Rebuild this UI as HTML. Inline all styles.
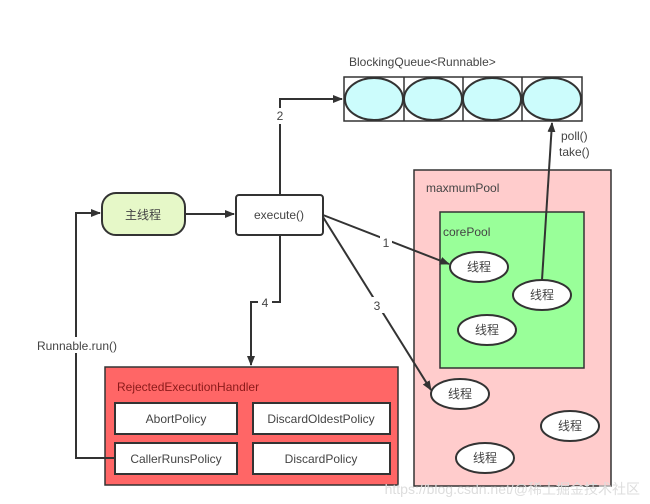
<!DOCTYPE html>
<html><head><meta charset="utf-8"><style>
html,body{margin:0;padding:0;background:#fff;}
svg{display:block;font-family:"Liberation Sans","Noto Sans CJK SC",sans-serif;}
text{fill:#444;font-size:12px;}
</style></head><body>
<svg width="650" height="504" viewBox="0 0 650 504" xmlns="http://www.w3.org/2000/svg">
<defs><marker id="a" markerWidth="10" markerHeight="8" refX="9" refY="4" orient="auto" markerUnits="userSpaceOnUse"><path d="M0,0 L10,4 L0,8 Z" fill="#333"/></marker></defs>
<g stroke="#333" stroke-width="2" fill="none">
<!-- queue -->
<rect x="344" y="77" width="238" height="44" fill="#fff" stroke-width="1.5"/>
<line x1="404" y1="77" x2="404" y2="121" stroke-width="1.5"/>
<line x1="463" y1="77" x2="463" y2="121" stroke-width="1.5"/>
<line x1="522" y1="77" x2="522" y2="121" stroke-width="1.5"/>
<ellipse cx="374" cy="99" rx="29" ry="21" fill="#ccfcfc"/>
<ellipse cx="433" cy="99" rx="29" ry="21" fill="#ccfcfc"/>
<ellipse cx="492" cy="99" rx="29" ry="21" fill="#ccfcfc"/>
<ellipse cx="552" cy="99" rx="29" ry="21" fill="#ccfcfc"/>
<!-- pools -->
<rect x="414" y="170" width="197" height="316" fill="#ffcccc" stroke-width="1.5"/>
<rect x="440" y="212" width="144" height="156" fill="#99ff99" stroke-width="1.5"/>
<!-- nodes -->
<rect x="102" y="193" width="83" height="42" rx="14" fill="#e6f8c8"/>
<rect x="236" y="195" width="87" height="40" rx="3" fill="#fff"/>
<rect x="105" y="367" width="293" height="118" fill="#ff6666" stroke-width="1.5"/>
<rect x="115" y="403" width="122" height="31" fill="#fff"/>
<rect x="253" y="403" width="137" height="31" fill="#fff"/>
<rect x="115" y="443" width="122" height="31" fill="#fff"/>
<rect x="253" y="443" width="137" height="31" fill="#fff"/>
<!-- threads -->
<ellipse cx="479" cy="267" rx="29" ry="15" fill="#fff"/>
<ellipse cx="542" cy="295" rx="29" ry="15" fill="#fff"/>
<ellipse cx="487" cy="330" rx="29" ry="15" fill="#fff"/>
<ellipse cx="460" cy="394" rx="29" ry="15" fill="#fff"/>
<ellipse cx="570" cy="426" rx="29" ry="15" fill="#fff"/>
<ellipse cx="485" cy="458" rx="29" ry="15" fill="#fff"/>
<!-- connectors -->
<polyline points="185,214 234,214" marker-end="url(#a)"/>
<polyline points="280,195 280,99 342,99" marker-end="url(#a)"/>
<polyline points="280,235 280,302 251,302 251,365" marker-end="url(#a)"/>
<polyline points="115,458 76,458 76,213 100,213" marker-end="url(#a)"/>
<line x1="323" y1="215" x2="449" y2="264" marker-end="url(#a)"/>
<line x1="323" y1="217" x2="431" y2="390" marker-end="url(#a)"/>
<line x1="542" y1="280" x2="552" y2="123" marker-end="url(#a)"/>
</g>
<!-- label backgrounds -->
<rect x="274" y="108" width="12" height="16" fill="#fff"/>
<rect x="258" y="295" width="14" height="15" fill="#fff"/>
<rect x="372" y="297" width="12" height="16" fill="#fff"/>
<rect x="380" y="234" width="12" height="16" fill="#fff"/>
<rect x="30" y="337" width="94" height="16" fill="#fff"/>
<text x="349" y="66">BlockingQueue&lt;Runnable&gt;</text>
<text x="561" y="140">poll()</text>
<text x="559" y="156">take()</text>
<text x="426" y="192">maxmumPool</text>
<text x="443" y="236">corePool</text>
<text x="143" y="219" text-anchor="middle">主线程</text>
<text x="279" y="219" text-anchor="middle">execute()</text>
<text x="280" y="120" text-anchor="middle">2</text>
<text x="265" y="307" text-anchor="middle">4</text>
<text x="377" y="310" text-anchor="middle">3</text>
<text x="386" y="247" text-anchor="middle">1</text>
<text x="77" y="350" text-anchor="middle">Runnable.run()</text>
<text x="117" y="391" style="fill:#8b1a1a">RejectedExecutionHandler</text>
<text x="176" y="423" text-anchor="middle">AbortPolicy</text>
<text x="321" y="423" text-anchor="middle">DiscardOldestPolicy</text>
<text x="176" y="463" text-anchor="middle">CallerRunsPolicy</text>
<text x="321" y="463" text-anchor="middle">DiscardPolicy</text>
<text x="479" y="271" text-anchor="middle">线程</text>
<text x="542" y="299" text-anchor="middle">线程</text>
<text x="487" y="334" text-anchor="middle">线程</text>
<text x="460" y="398" text-anchor="middle">线程</text>
<text x="570" y="430" text-anchor="middle">线程</text>
<text x="485" y="462" text-anchor="middle">线程</text>
<text x="640" y="494" text-anchor="end" style="fill:#ddd;font-size:14px">https://blog.csdn.net/@稀土掘金技术社区</text>
</svg>
</body></html>
